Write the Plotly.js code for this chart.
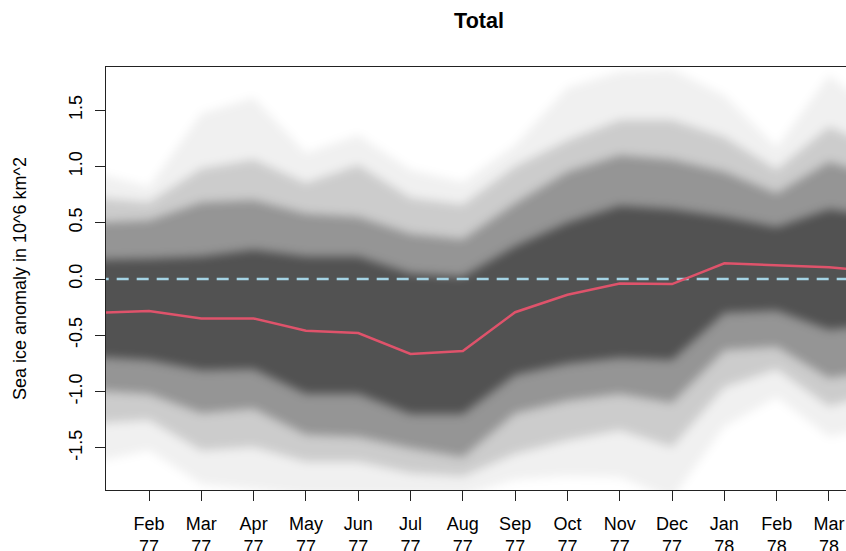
<!DOCTYPE html>
<html>
<head>
<meta charset="utf-8">
<script src="https://cdn.plot.ly/plotly-3.0.1.min.js"></script>
<style>
html, body { margin: 0; padding: 0; overflow: hidden; background: #fff; }
#chart { width: 860px; height: 551px; }
</style>
</head>
<body>
<div id="chart"></div>
<script>
// Months of the ensemble (Jan 77 .. Apr 78); first and last are only partly visible
const monthNames = ['Jan','Feb','Mar','Apr','May','Jun','Jul','Aug','Sep','Oct','Nov','Dec','Jan','Feb','Mar','Apr'];
const monthYears = ['77','77','77','77','77','77','77','77','77','77','77','77','78','78','78','78'];
const labelledMonths = ['Feb 77','Mar 77','Apr 77','May 77','Jun 77','Jul 77','Aug 77','Sep 77','Oct 77','Nov 77','Dec 77','Jan 78','Feb 78','Mar 78'];

// Ensemble envelope (10^6 km^2)
const ensMax  = [0.94, 0.82, 1.47, 1.61, 1.12, 1.28, 0.97, 0.86, 1.19, 1.70, 1.84, 1.86, 1.63, 1.17, 1.81, 1.45];
const ensHi1  = [0.72, 0.68, 0.98, 1.06, 0.85, 1.01, 0.72, 0.66, 1.00, 1.23, 1.41, 1.41, 1.26, 0.97, 1.35, 1.15];
const ensHi2  = [0.50, 0.52, 0.68, 0.70, 0.58, 0.55, 0.40, 0.35, 0.67, 0.95, 1.10, 1.06, 0.95, 0.76, 1.04, 0.90];
const ensHi3  = [0.17, 0.18, 0.20, 0.26, 0.20, 0.20, 0.05, 0.02, 0.29, 0.50, 0.65, 0.62, 0.55, 0.46, 0.62, 0.55];
const ensLo3  = [-0.69, -0.72, -0.81, -0.80, -1.02, -1.02, -1.20, -1.20, -0.85, -0.75, -0.70, -0.72, -0.30, -0.28, -0.45, -0.40];
const ensLo2  = [-0.99, -1.02, -1.19, -1.15, -1.38, -1.40, -1.50, -1.58, -1.19, -1.08, -1.02, -1.10, -0.63, -0.60, -0.88, -0.80];
const ensLo1  = [-1.28, -1.25, -1.52, -1.49, -1.62, -1.62, -1.72, -1.75, -1.55, -1.43, -1.34, -1.49, -0.96, -0.80, -1.13, -1.00];
const ensMin  = [-1.62, -1.52, -1.82, -1.87, -1.92, -1.92, -1.92, -1.92, -1.78, -1.75, -1.76, -1.95, -1.31, -1.05, -1.40, -1.30];
// Ensemble mean (red line)
const ensMean = [-0.30, -0.285, -0.35, -0.35, -0.46, -0.48, -0.665, -0.64, -0.295, -0.14, -0.04, -0.045, 0.14, 0.12, 0.105, 0.06];

const yTicks = [-1.5, -1.0, -0.5, 0.0, 0.5, 1.0, 1.5];

const monthKeys = monthNames.map((m, i) => m + ' ' + monthYears[i]);
const xIdx = monthKeys.map((_, i) => i);
const tickvals = labelledMonths.map(k => monthKeys.indexOf(k));
const ticktext = labelledMonths.map(k => k.replace(' ', '<br>'));

function band(hi, lo, alpha) {
  return {
    x: xIdx.concat(xIdx.slice().reverse()),
    y: hi.concat(lo.slice().reverse()),
    type: 'scatter', mode: 'lines', fill: 'toself',
    fillcolor: 'rgba(0,0,0,' + alpha + ')',
    line: { width: 0 }, hoverinfo: 'skip', showlegend: false
  };
}

const bands = [
  band(ensMax, ensMin, 0.06),
  band(ensHi1, ensLo1, 0.15),
  band(ensHi2, ensLo2, 0.27),
  band(ensHi3, ensLo3, 0.45)
];

const traces = bands.concat([
  { x: [xIdx[0], xIdx[xIdx.length - 1]], y: [0, 0], type: 'scatter', mode: 'lines',
    line: { color: '#A4D3E4', width: 2.5, dash: '12px,8px' }, showlegend: false, hoverinfo: 'skip' },
  { x: xIdx, y: ensMean, type: 'scatter', mode: 'lines',
    line: { color: '#DF536B', width: 2.5 }, showlegend: false }
]);

const font = { family: 'Liberation Sans, Arial, sans-serif', size: 18, color: '#000' };

const layout = {
  width: 860, height: 551,
  margin: { l: 106, r: 8, t: 67, b: 61 },
  paper_bgcolor: '#fff', plot_bgcolor: '#fff',
  font: font,
  showlegend: false,
  title: { text: '<b>Total</b>', xref: 'paper', x: 0.5, xanchor: 'center',
           yref: 'container', y: 1 - 20 / 551, yanchor: 'middle',
           font: { family: font.family, size: 21.5, color: '#000' } },
  xaxis: {
    range: [0.178, 14.44], tickvals: tickvals, ticktext: ticktext,
    ticks: 'outside', ticklen: 10, tickwidth: 1, tickcolor: '#222',
    showline: true, mirror: true, linecolor: '#222', linewidth: 1,
    showgrid: false, zeroline: false, tickangle: 0, ticklabelstandoff: 7,
    tickfont: font
  },
  yaxis: {
    range: [-1.874, 1.883], tickvals: yTicks, ticktext: yTicks.map(v => v.toFixed(1)),
    ticks: 'outside', ticklen: 10, tickwidth: 1, tickcolor: '#222',
    showline: true, mirror: true, linecolor: '#222', linewidth: 1,
    showgrid: false, zeroline: false, tickangle: -90, ticklabelstandoff: 6,
    tickfont: font,
    title: { text: 'Sea ice anomaly in 10^6 km^2', font: font, standoff: 34 }
  }
};

Plotly.newPlot('chart', traces, layout, { staticPlot: true, displayModeBar: false }).then(() => {
  const tr = document.querySelectorAll('#chart .scatterlayer .trace');
  for (let i = 0; i < bands.length && i < tr.length; i++) {
    tr[i].style.filter = 'blur(5px)';
  }
});
</script>
</body>
</html>
